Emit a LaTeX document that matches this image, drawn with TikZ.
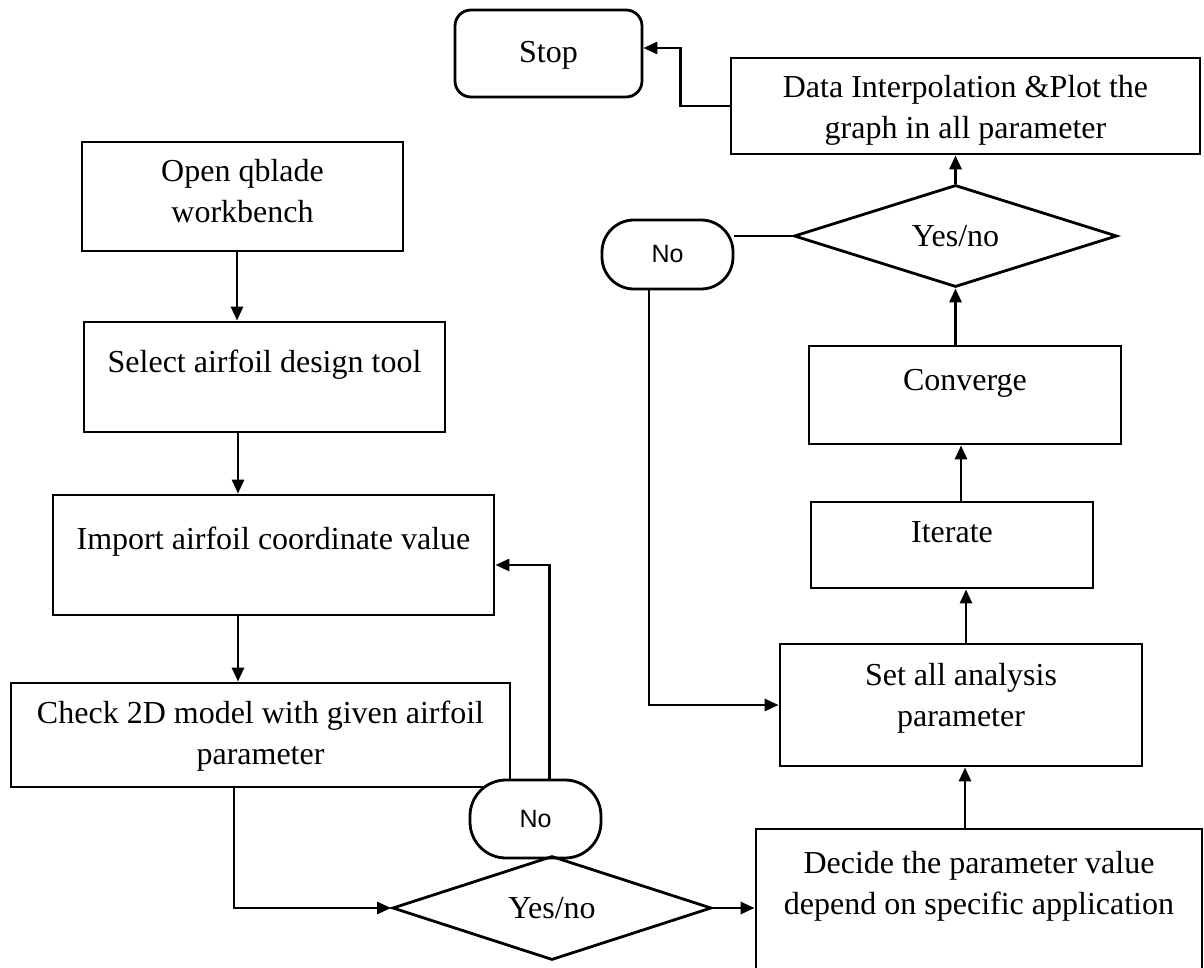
\documentclass[tikz,border=0pt]{standalone}
\usepackage{fontspec}
\setmainfont{Liberation Serif}
\newfontfamily\nofont{Liberation Sans}
\usetikzlibrary{shapes.geometric,arrows.meta}
\newcommand{\boxtxt}[4]{\parbox[c][#2pt][t]{#1pt}{\centering\rule{0pt}{#3pt}#4}}

\begin{document}
\begin{tikzpicture}[x=1pt,y=-1pt,line width=2.8pt,>={Triangle[length=14pt,width=12pt]},
	blk/.style={draw,rectangle,inner sep=0pt,fill=white,font=\fontsize{32}{41}\selectfont},
	pill/.style={draw,rectangle,inner sep=0pt,fill=white,minimum width=131pt,font=\nofont\fontsize{25}{28}\selectfont},
	ask/.style={draw,diamond,inner sep=0pt,aspect=3,font=\fontsize{32}{41}\selectfont}]
	\useasboundingbox (0,0) rectangle (1204,968);
	\node[blk] (open) at (242.5,196.5) {\boxtxt{321}{109}{40}{Open qblade\\workbench}};
	\node[blk] (sel) at (264.5,377) {\boxtxt{361}{110}{50}{Select airfoil design tool}};
	\node[blk] (imp) at (273.5,555) {\boxtxt{441}{120}{54}{Import airfoil coordinate value}};
	\node[blk] (chk) at (260.5,735) {\boxtxt{499}{104}{40}{Check 2D model with given airfoil\\parameter}};
	\node[pill,minimum height=78pt,rounded corners=36pt] (nob) at (535.5,819) {No};
	\node[ask,minimum width=319pt,minimum height=104pt] (yn2) at (552,908) {Yes/no};
	\node[blk] (decide) at (979,919.5) {\boxtxt{446}{181}{44}{Decide the parameter value\\depend on specific application}};
	\node[blk] (set) at (961,705) {\boxtxt{362}{122}{41}{Set all analysis\\parameter}};
	\node[blk] (itr) at (952,545) {\boxtxt{282}{86}{40}{Iterate}};
	\node[blk] (conv) at (965,395) {\boxtxt{312}{98}{44}{Converge}};
	\node[ask,minimum width=323pt,minimum height=102pt] (yn1) at (955.5,236) {Yes/no};
	\node[pill,minimum height=69pt,rounded corners=32pt] (noa) at (667.5,254.5) {No};
	\node[blk] (data) at (965.5,106) {\boxtxt{469}{96}{40}{Data Interpolation \&Plot the\\graph in all parameter}};
	\node[blk,rounded corners=16pt] (stop) at (548.5,53.5) {\boxtxt{187}{87}{53}{Stop}};
	\draw[->] ([xshift=-5.5pt]open.south) -- ([xshift=-5.5pt]open.south |- sel.north);
	\draw[->] ([xshift=-26.5pt]sel.south) -- ([xshift=-26.5pt]sel.south |- imp.north);
	\draw[->] ([xshift=-35.5pt]imp.south) -- ([xshift=-35.5pt]imp.south |- chk.north);
	\draw[->] ([xshift=-26.5pt]chk.south) |- (yn2.west);
	\draw[->] ([xshift=14pt]nob.north) |- ([yshift=-10pt]imp.east);
	\draw[->] (yn2.east) -- (yn2.east -| decide.west);
	\draw[->] ([xshift=-14pt]decide.north) -- ([xshift=-14pt]decide.north |- set.south);
	\draw[->] ([xshift=5pt]set.north) -- ([xshift=5pt]set.north |- itr.south);
	\draw[->] ([xshift=9pt]itr.north) -- ([xshift=9pt]itr.north |- conv.south);
	\draw[->] (yn1.south |- conv.north) -- (yn1.south);
	\draw[->] (yn1.north) -- (yn1.north |- data.south);
	\draw[->] (data.west) -- ++(-49,0) |- ([yshift=5.5pt]stop.east);
	\draw (yn1.west) -- (yn1.west -| noa.east);
	\draw[->] ([xshift=-18.5pt]noa.south) |- (set.west);
\end{tikzpicture}
\end{document}
